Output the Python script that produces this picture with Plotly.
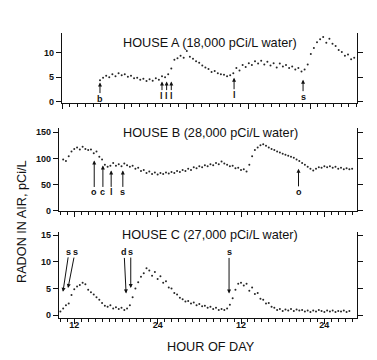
import numpy as np
import plotly.graph_objects as go

# ---------------- data ----------------
# House A (own time scale, arbitrary units as drawn)
A_START, A_STEP = 4.9, 0.4
house_a = [4.4, 4.9, 5.3, 5.0, 5.6, 5.2, 5.8, 5.4, 5.6, 5.1, 5.3, 4.8, 4.9, 4.5, 4.7, 4.2,
           4.6, 4.3, 4.8, 4.5, 5.2, 5.0, 5.6, 6.8, 8.6, 8.9, 9.4, 9.0, 10.4, 9.2, 8.8, 8.3,
           8.0, 7.4, 7.0, 6.7, 6.1, 6.3, 5.8, 5.6, 5.5, 5.2, 5.4, 5.8, 6.9, 6.4, 7.5, 7.1,
           7.9, 7.5, 8.3, 7.8, 8.4, 7.6, 8.2, 7.4, 7.9, 7.0, 7.8, 7.2, 7.5, 6.9, 7.2, 6.6,
           6.9, 6.2, 6.6, 7.6, 9.8, 11.0, 12.2, 12.8, 13.3, 12.1, 12.9, 11.9, 11.4, 10.6,
           10.2, 9.4, 9.7, 8.7, 9.0]

# House B (hour of day, continuous over two days)
B_START, B_STEP = 10.4, 0.4
house_b = [98, 95, 104, 113, 118, 121, 117, 122, 118, 116, 117, 110, 113, 103, 98, 88,
           84, 86, 91, 86, 89, 85, 90, 87, 84, 86, 80, 82, 76, 78, 72, 75, 70, 73, 69, 72,
           70, 73, 71, 74, 72, 76, 74, 78, 76, 80, 78, 83, 81, 85, 83, 87, 85, 89, 87, 91,
           89, 94, 90, 88, 85, 86, 81, 82, 78, 79, 75, 88, 104, 116, 121, 125, 127, 124,
           121, 118, 116, 113, 111, 109, 107, 105, 103, 101, 98, 95, 91, 88, 84, 80, 77,
           80, 83, 82, 85, 83, 85, 82, 84, 80, 82, 79, 81, 79, 80]

# House C
C_START, C_STEP = 10.0, 0.4
house_c = [0.7, 1.3, 1.9, 2.2, 3.8, 4.9, 5.4, 5.7, 6.1, 5.8, 4.8, 4.3, 3.9, 3.4, 2.9, 2.3,
           1.8, 1.6, 1.9, 1.3, 1.5, 1.2, 1.4, 1.0, 1.3, 1.9, 3.4, 5.0, 6.2, 7.2, 7.9, 8.8,
           8.4, 7.4, 8.1, 6.8, 7.3, 6.1, 6.4, 5.2, 5.0, 4.2, 3.9, 3.3, 3.0, 2.6, 2.7, 2.2,
           2.4, 1.9, 2.1, 1.7, 1.8, 1.4, 1.6, 1.2, 1.4, 1.0, 1.2, 1.0, 1.3, 2.0, 3.2, 4.8,
           5.9, 6.1, 5.6, 5.9, 4.6, 5.2, 4.0, 4.2, 3.1, 2.9, 2.2, 2.3, 1.6, 1.4, 1.0, 1.2,
           0.8, 1.1, 0.9, 1.2, 0.8, 1.1, 0.9, 1.0, 0.7, 0.9, 0.6, 0.9, 0.7, 1.0, 0.8, 0.6,
           0.9, 0.7, 0.9, 0.6, 0.8, 0.7, 0.9, 0.6, 0.8]

hour_ticks = [12, 24, 36, 48]
hour_labels = ["12", "24", "12", "24"]

titles = ["HOUSE A (18,000 pCi/L water)", "HOUSE B (28,000 pCi/L water)",
          "HOUSE C (27,000 pCi/L water)"]

# event markers: (label, time, value, dx_px, dy_px)
events_a = [("b", 4.9, 3.9, 0, 16), ("l", 12.9, 4.1, 0, 14), ("l", 13.5, 4.1, 0, 14),
            ("l", 14.1, 4.1, 0, 14), ("l", 22.2, 4.9, 0, 17), ("s", 31.1, 4.5, 0, 17)]
events_b = [("o", 14.87, 96, 0, 32), ("c", 16.12, 86.5, 0, 27), ("l", 17.31, 77, 0, 22),
            ("s", 18.99, 77, 0, 22), ("o", 44.28, 80, 0, 23)]
events_c = [("s", 10.37, 4.4, 6, -40), ("s", 11.1, 5.1, 7, -36), ("d", 19.46, 4.1, -2, -41),
            ("s", 20.13, 5.1, 0, -36), ("s", 34.28, 4.1, 0, -41)]

# ---------------- figure ----------------
W, H = 377, 360
fig = go.Figure()

def times(start, step, vals):
    return start + step * np.arange(len(vals))

series = [(house_a, A_START, A_STEP, "x", "y"),
          (house_b, B_START, B_STEP, "x2", "y2"),
          (house_c, C_START, C_STEP, "x3", "y3")]
for vals, st, sp, xa, ya in series:
    fig.add_trace(go.Scatter(x=times(st, sp, vals), y=vals, mode="markers",
                             marker=dict(size=2, color="#262626", line=dict(width=0)),
                             xaxis=xa, yaxis=ya, showlegend=False, hoverinfo="skip"))

tickfont = dict(family="Liberation Sans, Arial", size=9, color="#111", weight="bold")
ax_common = dict(showline=True, linecolor="#111", linewidth=1.3, ticks="outside",
                 tickcolor="#111", tickwidth=1.2, showgrid=False, zeroline=False,
                 tickfont=tickfont, automargin=False)
minor_x = dict(dtick=1, tick0=0, ticklen=3, ticks="outside", tickcolor="#111", tickwidth=1,
               showgrid=False)

xdomA = [62 / W, 357 / W]
xdom = [59 / W, 357 / W]
ydomA = [1 - 103 / H, 1 - 33 / H]
ydomB = [1 - 211 / H, 1 - 128 / H]
ydomC = [1 - 318 / H, 1 - 232 / H]

fig.update_layout(
    template="none",
    width=W, height=H, margin=dict(l=0, r=0, t=0, b=0, pad=0),
    paper_bgcolor="white", plot_bgcolor="white",
    xaxis=dict(domain=xdomA, range=[0, 38.06], anchor="y", tick0=0, dtick=8, ticklen=5,
               showticklabels=False, minor=minor_x, **ax_common),
    yaxis=dict(domain=ydomA, range=[-0.3, 14.1], anchor="x", tickvals=[0, 5, 10],
               ticklen=5, mirror="ticks", **ax_common),
    xaxis2=dict(domain=xdom, range=[9.8, 52.7], anchor="y2", tickvals=hour_ticks, ticklen=5,
                showticklabels=False, minor=minor_x, **ax_common),
    yaxis2=dict(domain=ydomB, range=[-0.5, 158], anchor="x2", tickvals=[0, 50, 100, 150],
                ticklen=5, mirror="ticks", **ax_common),
    xaxis3=dict(domain=xdom, range=[9.8, 52.7], anchor="y3", tickvals=hour_ticks,
                ticktext=hour_labels, ticklen=5, ticklabelstandoff=-7,
                minor=minor_x, **ax_common),
    yaxis3=dict(domain=ydomC, range=[-0.5, 15.6], anchor="x3", tickvals=[0, 5, 10, 15],
                ticklen=5, mirror="ticks", **ax_common),
)

tfont = dict(family="Liberation Sans, Arial", size=12.7, color="#111")
title_y = [1 - 43 / H, 1 - 133 / H, 1 - 235 / H]
for t, yy in zip(titles, title_y):
    fig.add_annotation(text=t, x=210 / W, y=yy, xref="paper", yref="paper",
                       showarrow=False, font=tfont, xanchor="center", yanchor="middle")

fig.add_annotation(text="RADON IN AIR, pCi/L", x=22 / W, y=1 - 222 / H, xref="paper",
                   yref="paper", showarrow=False, textangle=-90, font=tfont,
                   xanchor="center", yanchor="middle")
fig.add_annotation(text="HOUR OF DAY", x=211 / W, y=1 - 347 / H, xref="paper",
                   yref="paper", showarrow=False, font=tfont,
                   xanchor="center", yanchor="middle")

lfont = dict(family="Liberation Sans, Arial", size=9, color="#111", weight="bold")
for evs, xr, yr in [(events_a, "x", "y"), (events_b, "x2", "y2"), (events_c, "x3", "y3")]:
    for lab, tx, ty, dx, dy in evs:
        fig.add_annotation(text=lab, x=tx, y=ty, xref=xr, yref=yr, ax=dx, ay=dy,
                           showarrow=True, arrowhead=2, arrowsize=0.8, arrowwidth=1,
                           arrowcolor="#111", font=lfont, borderpad=0)

fig.write_html("out.html", config={"displayModeBar": False},
               post_script="document.body.style.margin='0';document.body.style.overflow='hidden';")
